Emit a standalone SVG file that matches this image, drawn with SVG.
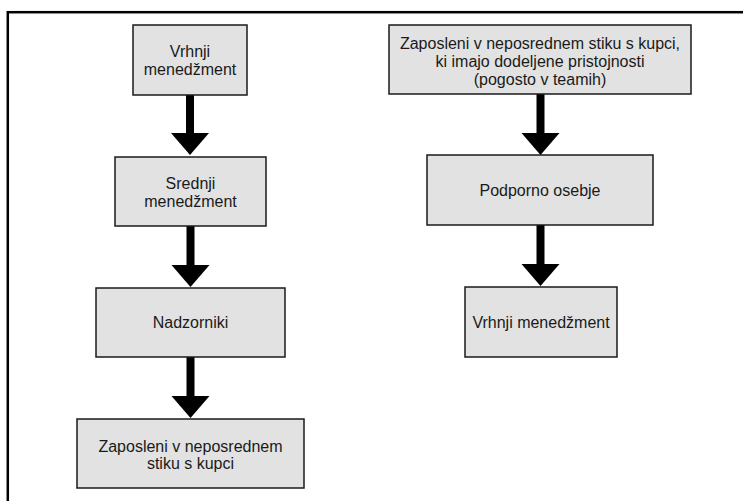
<svg xmlns="http://www.w3.org/2000/svg" width="743" height="501" viewBox="0 0 743 501">
<style>
.box{fill:#e2e2e2;stroke:#1a1a1a;stroke-width:1.5}
.lbl{font-family:"Liberation Sans",Arial,Helvetica,sans-serif;font-size:16px;fill:#1a1a1a;text-anchor:middle}
.conn{stroke:#000;stroke-width:8;fill:none;marker-end:url(#head)}
.frame{fill:none;stroke:#000;stroke-width:2.5}
</style>
<defs>
<marker id="head" markerUnits="userSpaceOnUse" markerWidth="24" markerHeight="40" viewBox="0 -20 24 40" refX="0" refY="0" orient="auto">
<path d="M0,-19 L22,0 L0,19 Z" fill="#000"/>
</marker>
</defs>
<rect width="743" height="501" fill="#fff"/>
<rect class="frame" x="7.8" y="12.2" width="800" height="600"/>
<g id="connectors">
<line class="conn" x1="190" y1="95" x2="190" y2="133"/>
<line class="conn" x1="190.5" y1="226" x2="190.5" y2="265"/>
<line class="conn" x1="190.5" y1="357" x2="190.5" y2="396"/>
<line class="conn" x1="540.5" y1="94" x2="540.5" y2="133"/>
<line class="conn" x1="540.5" y1="225" x2="540.5" y2="264"/>
</g>
<g id="n1">
<rect class="box" x="133" y="25" width="114" height="70"/>
<text class="lbl" x="190" y="57">Vrhnji</text>
<text class="lbl" x="190" y="75">menedžment</text>
</g>
<g id="n2">
<rect class="box" x="115" y="157" width="151" height="69"/>
<text class="lbl" x="190.5" y="188.5">Srednji</text>
<text class="lbl" x="190.5" y="206.5">menedžment</text>
</g>
<g id="n3">
<rect class="box" x="96" y="288" width="189" height="69"/>
<text class="lbl" x="190.5" y="328">Nadzorniki</text>
</g>
<g id="n4">
<rect class="box" x="77" y="419" width="227" height="69"/>
<text class="lbl" x="190.5" y="451.5">Zaposleni v neposrednem</text>
<text class="lbl" x="190.5" y="469">stiku s kupci</text>
</g>
<g id="n5">
<rect class="box" x="389" y="25" width="302" height="69"/>
<text class="lbl" x="540" y="48.5">Zaposleni v neposrednem stiku s kupci,</text>
<text class="lbl" x="540" y="66.5">ki imajo dodeljene pristojnosti</text>
<text class="lbl" x="540" y="84.5">(pogosto v teamih)</text>
</g>
<g id="n6">
<rect class="box" x="427" y="155" width="226" height="70"/>
<text class="lbl" x="540" y="196">Podporno osebje</text>
</g>
<g id="n7">
<rect class="box" x="465" y="287" width="152" height="70"/>
<text class="lbl" x="541" y="327.5">Vrhnji menedžment</text>
</g>
</svg>
